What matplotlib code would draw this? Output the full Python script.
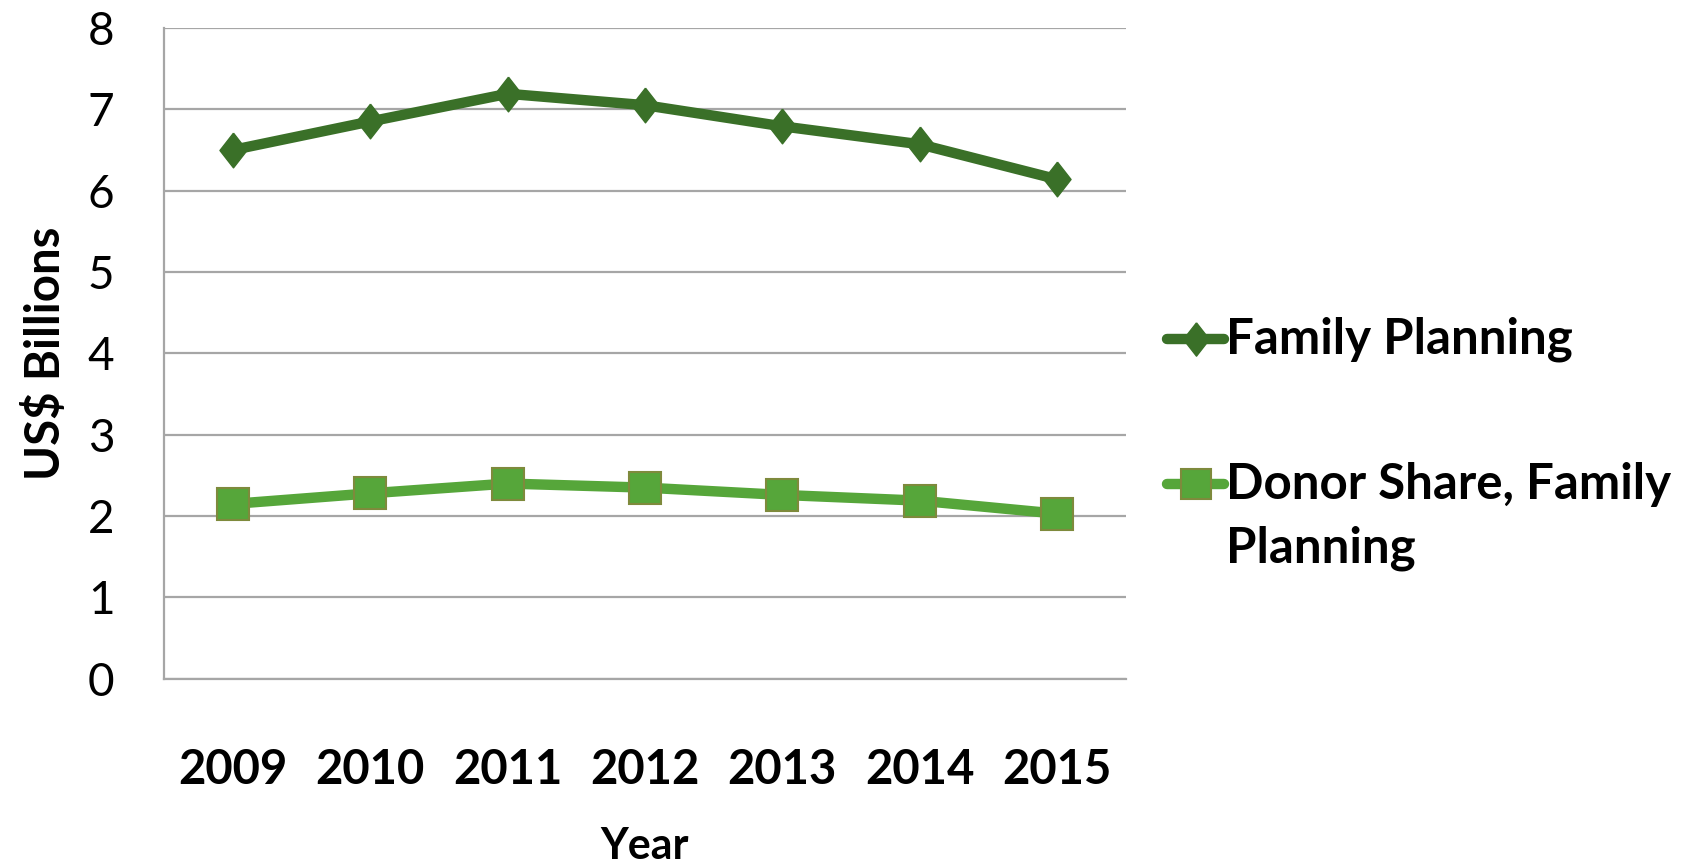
import matplotlib
matplotlib.use("Agg")
import matplotlib.pyplot as plt
from matplotlib.lines import Line2D
import numpy as np

years = ["2009", "2010", "2011", "2012", "2013", "2014", "2015"]
family_planning = [6.50, 6.85, 7.19, 7.05, 6.79, 6.57, 6.14]
donor_share = [2.15, 2.28, 2.40, 2.35, 2.26, 2.19, 2.03]
series_labels = ["Family Planning", "Donor Share, Family\nPlanning"]
y_ticks = [0, 1, 2, 3, 4, 5, 6, 7, 8]

plt.rcParams['font.family'] = ['Lato', 'DejaVu Sans']

dark = '#3A7028'
light = '#56A63A'
light_edge = '#7E8A3C'
diamond = [(0, 1), (0.78, 0), (0, -1), (-0.78, 0), (0, 1)]

fig = plt.figure(figsize=(16.84, 8.63), dpi=100)
ax = fig.add_axes([0.0976, 0.2134, 0.6684 - 0.0976, 0.9677 - 0.2134])

x = np.arange(len(years))
ax.plot(x, family_planning, color=dark, lw=7.5, marker=diamond, ms=25,
        mec=dark, mfc=dark, solid_capstyle='round')
ax.plot(x, donor_share, color=light, lw=7.5, marker='s', ms=23,
        mec=light_edge, mew=1.5, mfc=light, solid_capstyle='round')

ax.set_xlim(-0.5, len(years) - 0.5)
ax.set_ylim(0, 8)
ax.set_yticks(y_ticks)
ax.set_yticklabels([str(v) for v in y_ticks], fontsize=33)
ax.set_xticks(x)
ax.set_xticklabels(years, fontsize=34, fontweight='bold')
ax.tick_params(axis='x', length=0, pad=50)
ax.tick_params(axis='y', length=0, pad=36)
ax.yaxis.grid(True, color='#A6A6A6', lw=1.6)
ax.set_axisbelow(True)
for s in ['top', 'right']:
    ax.spines[s].set_visible(False)
for s in ['left', 'bottom']:
    ax.spines[s].set_color('#A6A6A6')
    ax.spines[s].set_linewidth(1.6)

ax.set_xlabel("Year", fontsize=31, fontweight='bold', labelpad=24)
ax.set_ylabel("US$ Billions", fontsize=34, fontweight='bold', labelpad=14)

# manual legend (right of plot)
leg_entries = [
    (series_labels[0], 0.607, dict(color=dark, marker=diamond, ms=24, mec=dark, mfc=dark, mew=1)),
    (series_labels[1], 0.439, dict(color=light, marker='s', ms=22, mec=light_edge, mfc=light, mew=1.5)),
]
line_step = 0.074
hx0, hx1, tx = 1167 / 1684, 1224 / 1684, 1226 / 1684
for label, yy, style in leg_entries:
    fig.add_artist(Line2D([hx0, hx1], [yy, yy], transform=fig.transFigure,
                          lw=7.5, solid_capstyle='round', color=style['color']))
    fig.add_artist(Line2D([(hx0 + hx1) / 2], [yy], transform=fig.transFigure,
                          lw=0, marker=style['marker'], ms=style['ms'],
                          mec=style['mec'], mfc=style['mfc'], mew=style['mew']))
    for i, part in enumerate(label.split("\n")):
        fig.text(tx, yy - i * line_step, part, fontsize=35.5, fontweight='bold',
                 va='center', ha='left', transform=fig.transFigure)

fig.savefig("out.png", dpi=100)
